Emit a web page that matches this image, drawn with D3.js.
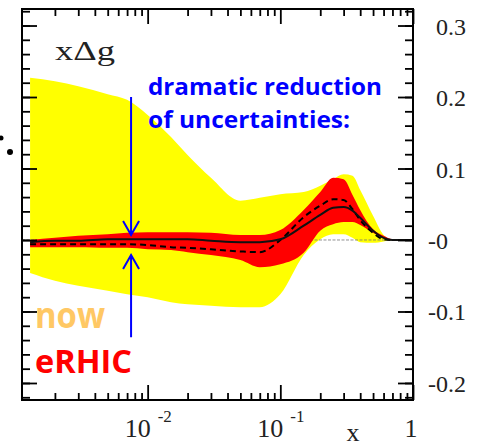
<!DOCTYPE html>
<html>
<head>
<meta charset="utf-8">
<script src="https://cdn.jsdelivr.net/npm/d3@7"></script>
<style>
body { margin: 0; background: #fff; }
svg { display: block; }
</style>
</head>
<body>
<svg width="479" height="447"></svg>
<script>
// x grid (log), band edges and central curves
var xs      = [0.0013, 0.002, 0.003, 0.005, 0.007, 0.01, 0.015, 0.02, 0.03, 0.05, 0.07, 0.1, 0.15, 0.2, 0.25, 0.3, 0.35, 0.4, 0.5, 0.6, 0.7, 0.8, 1];
var nowHi   = [0.227, 0.222, 0.215, 0.204, 0.196, 0.175, 0.144, 0.119, 0.087, 0.055, 0.059, 0.064, 0.067, 0.076, 0.085, 0.092, 0.090, 0.070, 0.034, 0.007, 0, 0, 0];
var nowLo   = [-0.046, -0.057, -0.064, -0.071, -0.076, -0.080, -0.087, -0.090, -0.092, -0.094, -0.094, -0.076, -0.021, 0.001, 0.008, 0.008, 0.003, -0.003, -0.004, -0.002, 0, 0, 0];
var erhicHi = [0.000, 0.003, 0.006, 0.008, 0.010, 0.011, 0.011, 0.011, 0.010, 0.007, 0.007, 0.014, 0.042, 0.067, 0.087, 0.085, 0.063, 0.042, 0.015, 0.006, 0.001, 0, 0];
var erhicLo = [-0.010, -0.010, -0.010, -0.011, -0.011, -0.013, -0.014, -0.017, -0.021, -0.028, -0.038, -0.034, -0.018, 0.013, 0.022, 0.025, 0.025, 0.021, 0.010, 0.003, 0, 0, 0];
var solid   = [-0.003, -0.001, -0.001, 0.001, 0.001, 0.001, 0.001, 0.001, -0.001, -0.003, -0.003, 0.001, 0.020, 0.035, 0.045, 0.046, 0.041, 0.031, 0.013, 0.003, 0, 0, 0];
var dashed  = [-0.006, -0.006, -0.006, -0.006, -0.006, -0.007, -0.010, -0.011, -0.013, -0.016, -0.017, 0.000, 0.032, 0.048, 0.057, 0.056, 0.043, 0.028, 0.010, 0.001, 0, 0, 0];

var yTicks  = [0.3, 0.2, 0.1, 0, -0.1, -0.2];
var yLabels = ['0.3', '0.2', '0.1', '-0', '-0.1', '-0.2'];
var xTicks  = [0.01, 0.1, 1];
var xBase   = ['10', '10', '1'];
var xSup    = ['-2', '-1', ''];

// arrows: x position, [start, tip] in data units
var arrowX  = 0.0075;
var arrowDown = [0.2, 0.007];
var arrowUp   = [-0.136, -0.021];

var svg = d3.select("svg"),
    margin = {top: 9, right: 66, bottom: 47, left: 22},
    width = +svg.attr("width") - margin.left - margin.right,
    height = +svg.attr("height") - margin.top - margin.bottom;

var x = d3.scaleLog()
    .domain([Math.pow(10, -2.947), 1])
    .range([margin.left, margin.left + width]);

var y = d3.scaleLinear()
    .domain([-0.2238, 0.3231])
    .range([margin.top + height, margin.top]);

var rows = xs.map(function(v, i) {
  return {x: v, nh: nowHi[i], nl: nowLo[i], eh: erhicHi[i], el: erhicLo[i], s: solid[i], d: dashed[i]};
});

var band = function(hi, lo) {
  return d3.area()
    .x(function(d) { return x(d.x); })
    .y0(function(d) { return y(d[lo]); })
    .y1(function(d) { return y(d[hi]); })
    .curve(d3.curveMonotoneX);
};
var line = function(k) {
  return d3.line()
    .x(function(d) { return x(d.x); })
    .y(function(d) { return y(d[k]); })
    .curve(d3.curveMonotoneX);
};

svg.append("path").datum(rows).attr("fill", "#ffff00").attr("d", band("nh", "nl"));

// zero line
svg.append("line")
    .attr("x1", x.range()[0]).attr("x2", x.range()[1])
    .attr("y1", y(0)).attr("y2", y(0))
    .attr("stroke", "#777").attr("stroke-width", 1)
    .attr("stroke-dasharray", "3,1.5").attr("opacity", 0.8);

svg.append("path").datum(rows).attr("fill", "#ff0000").attr("d", band("eh", "el"));

svg.append("path").datum(rows)
    .attr("fill", "none").attr("stroke", "#000").attr("stroke-width", 2)
    .attr("stroke-dasharray", "6,4")
    .attr("d", line("d"));
svg.append("path").datum(rows)
    .attr("fill", "none").attr("stroke", "#111").attr("stroke-width", 2)
    .attr("d", line("s"));

// ticks, all pointing inward
var yMinor = d3.range(-22, 33, 2).map(function(v) { return v / 100; });
var xMinor = [];
[-3, -2, -1].forEach(function(e) {
  for (var k = 2; k <= 9; k++) xMinor.push(k * Math.pow(10, e));
});
xMinor = xMinor.filter(function(v) { return v > x.domain()[0]; });

function drawAxis(axis, tx, ty) {
  var g = svg.append("g")
      .attr("transform", "translate(" + tx + "," + ty + ")")
      .call(axis);
  g.select(".domain").remove();
  g.selectAll("text").remove();
  g.selectAll("line").attr("stroke", "#000").attr("stroke-width", 1.8);
}

drawAxis(d3.axisLeft(y).tickValues(yMinor).tickSize(-8), margin.left, 0);
drawAxis(d3.axisLeft(y).tickValues(yTicks).tickSize(-15), margin.left, 0);
drawAxis(d3.axisRight(y).tickValues(yMinor).tickSize(-8), margin.left + width, 0);
drawAxis(d3.axisRight(y).tickValues(yTicks).tickSize(-15), margin.left + width, 0);
drawAxis(d3.axisBottom(x).tickValues(xMinor).tickSize(-7), 0, margin.top + height);
drawAxis(d3.axisBottom(x).tickValues(xTicks).tickSize(-15), 0, margin.top + height);
drawAxis(d3.axisTop(x).tickValues(xMinor).tickSize(-7), 0, margin.top);
drawAxis(d3.axisTop(x).tickValues(xTicks).tickSize(-15), 0, margin.top);

svg.append("rect")
    .attr("x", margin.left).attr("y", margin.top)
    .attr("width", width).attr("height", height)
    .attr("fill", "none").attr("stroke", "#000").attr("stroke-width", 2);

// tick labels
var serif = "'Liberation Serif', 'DejaVu Serif', serif";
svg.selectAll(".ylab")
  .data(yTicks)
  .enter().append("text")
    .attr("x", function(d, i) { return yLabels[i].charAt(0) === '-' ? 428 : 436; })
    .attr("y", function(d) { return y(d) + 9; })
    .attr("font-family", serif).attr("font-size", 24).attr("fill", "#222")
    .text(function(d, i) { return yLabels[i]; });

xTicks.forEach(function(v, i) {
  if (xSup[i]) {
    svg.append("text")
        .attr("x", x(v) + 3).attr("y", 437)
        .attr("text-anchor", "end")
        .attr("font-family", serif).attr("font-size", 26).attr("fill", "#222")
        .text(xBase[i]);
    svg.append("text")
        .attr("x", x(v) + 10).attr("y", 422)
        .attr("font-family", serif).attr("font-size", 17).attr("fill", "#222")
        .text(xSup[i]);
  } else {
    svg.append("text")
        .attr("x", x(v) - 2).attr("y", 437)
        .attr("text-anchor", "middle")
        .attr("font-family", serif).attr("font-size", 26).attr("fill", "#222")
        .text(xBase[i]);
  }
});

svg.append("text")
    .attr("x", 353).attr("y", 441).attr("text-anchor", "middle")
    .attr("font-family", serif).attr("font-size", 26).attr("fill", "#222")
    .text("x");

svg.append("text")
    .attr("x", 55).attr("y", 60)
    .attr("font-family", serif).attr("font-size", 27).attr("fill", "#222")
    .attr("textLength", 60).attr("lengthAdjust", "spacingAndGlyphs")
    .text("x\u0394g");

// annotations
var sans = "'Open Sans', 'Noto Sans', sans-serif";
svg.append("text")
    .attr("x", 148).attr("y", 95)
    .attr("font-family", sans).attr("font-weight", "bold").attr("font-size", 24)
    .attr("fill", "#0000ff")
    .attr("textLength", 234).attr("lengthAdjust", "spacingAndGlyphs")
    .text("dramatic reduction");
svg.append("text")
    .attr("x", 148).attr("y", 128)
    .attr("font-family", sans).attr("font-weight", "bold").attr("font-size", 24)
    .attr("fill", "#0000ff")
    .attr("textLength", 202).attr("lengthAdjust", "spacingAndGlyphs")
    .text("of uncertainties:");

svg.append("text")
    .attr("x", 35).attr("y", 328)
    .attr("font-family", sans).attr("font-weight", "bold").attr("font-size", 36)
    .attr("fill", "#ffc864")
    .attr("textLength", 70).attr("lengthAdjust", "spacingAndGlyphs")
    .text("now");
svg.append("text")
    .attr("x", 35).attr("y", 373)
    .attr("font-family", sans).attr("font-weight", "bold").attr("font-size", 32)
    .attr("fill", "#ff0000")
    .attr("textLength", 97).attr("lengthAdjust", "spacingAndGlyphs")
    .text("eRHIC");

function arrow(from, tip) {
  var ax = x(arrowX), y0 = y(from), y1 = y(tip);
  var dir = y1 > y0 ? -1 : 1;
  svg.append("path")
      .attr("d", "M" + ax + "," + y0 + "L" + ax + "," + y1 +
                 "M" + (ax - 8) + "," + (y1 + dir * 14) + "L" + ax + "," + y1 +
                 "L" + (ax + 8) + "," + (y1 + dir * 14))
      .attr("fill", "none").attr("stroke", "#0000ff").attr("stroke-width", 2);
}
arrow(arrowDown[0], arrowDown[1]);
arrow(arrowUp[0], arrowUp[1]);

// bits of slide text cut off at the left edge
svg.append("circle").attr("cx", 10).attr("cy", 152).attr("r", 3).attr("fill", "#000");
svg.append("circle").attr("cx", 1).attr("cy", 138).attr("r", 2.5).attr("fill", "#000");
</script>
</body>
</html>
